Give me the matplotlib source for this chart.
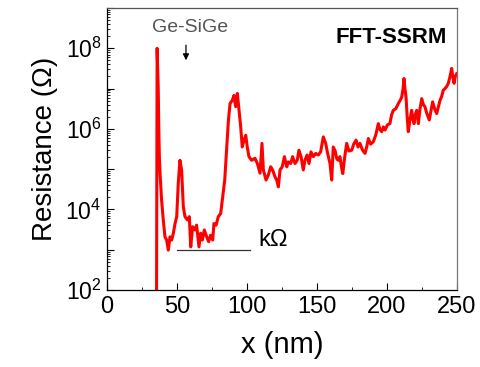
import matplotlib
matplotlib.use("Agg")
import matplotlib.pyplot as plt
import numpy as np
from matplotlib.ticker import LogLocator, FuncFormatter, MultipleLocator, NullFormatter

plt.rcParams['font.family'] = ['Liberation Sans', 'DejaVu Sans']
plt.rcParams['mathtext.fontset'] = 'custom'
plt.rcParams['mathtext.rm'] = 'Liberation Sans'
plt.rcParams['mathtext.it'] = 'Liberation Sans'

# position (nm)
x_nm = [35.3, 35.8, 36.6, 37.0, 37.4, 37.9, 39.0, 40.2, 41.4, 42.6, 43.8, 45.0, 46.2,
        47.4, 48.6, 49.8, 50.9, 52.1, 53.3, 54.5, 55.7, 57.4, 58.8, 59.8, 61.2, 62.9,
        64.0, 65.7, 66.9, 68.1, 69.5, 71.2, 72.6, 74.0, 75.5, 76.4, 77.9, 79.5, 81.2,
        82.6, 84.1, 85.5, 86.7, 87.9, 89.5, 90.7, 91.9, 93.1, 94.3, 95.5, 96.6, 97.9,
        99.1, 100.2, 101.4, 103.3, 105.7, 107.4, 109.3, 110.7, 111.7, 113.6, 115.2,
        116.9, 118.3, 120.0, 121.2, 122.4, 123.6, 125.2, 126.7, 128.4, 129.5, 131.2,
        132.6, 134.3, 135.9, 137.1, 138.6, 140.2, 141.4, 142.9, 144.3, 145.7, 147.4,
        149.1, 150.9, 152.6, 154.5, 156.2, 157.6, 159.3, 160.5, 161.6, 163.0, 164.2,
        165.2, 166.4, 167.5, 168.4, 169.8, 171.2, 172.8, 174.8, 176.2, 177.9, 179.3,
        180.7, 182.4, 184.3, 185.5, 186.7, 188.3, 190.2, 192.0, 193.8, 195.0, 196.2,
        197.4, 198.6, 200.3, 202.1, 203.3, 204.5, 206.3, 208.1, 209.3, 210.5, 211.5,
        212.1, 212.8, 213.6, 214.4, 215.2, 216.3, 217.6, 218.4, 219.3, 220.2, 221.2,
        222.4, 223.6, 224.8, 226.0, 227.1, 228.3, 230.2, 231.4, 232.6, 234.0, 235.5,
        236.7, 237.9, 239.0, 240.2, 241.4, 242.6, 243.8, 245.0, 246.2, 247.0, 247.9,
        248.8, 249.8]
# log10 of resistance (Ohm)
log_r = [0.5, 8.0, 7.0, 6.0, 5.3, 4.89, 4.23, 3.74, 3.32, 3.24, 2.99, 3.32, 3.24,
         3.41, 3.65, 3.82, 4.65, 5.22, 4.98, 4.07, 3.82, 3.74, 3.82, 3.07, 3.57, 3.49,
         3.61, 3.07, 3.41, 3.24, 3.49, 3.32, 3.20, 3.36, 3.24, 3.65, 3.61, 3.82, 3.90,
         4.31, 4.73, 5.50, 6.20, 6.63, 6.71, 6.83, 6.55, 6.88, 6.46, 6.05, 5.55, 5.72,
         5.84, 5.55, 5.31, 5.22, 5.27, 5.14, 4.90, 5.64, 4.98, 4.73, 4.85,
         5.06, 4.98, 4.81, 4.73, 4.56, 4.98, 5.06, 5.31, 5.06, 5.18, 5.14,
         5.31, 5.14, 5.22, 5.47, 5.31, 4.98, 5.22, 5.35, 5.14, 5.43, 5.31,
         5.39, 5.35, 5.43, 5.80, 5.64, 5.39, 5.14, 4.73, 5.55, 5.45, 5.25,
         5.22, 5.31, 5.05, 4.89, 5.30, 5.64, 5.45, 5.47, 5.62, 5.72, 5.55,
         5.64, 5.48, 5.39, 5.55, 5.76, 5.62, 5.68, 5.85, 6.13, 5.98, 5.93,
         6.05, 5.97, 6.10, 6.13, 6.35, 6.46, 6.50, 6.63, 6.70, 6.79, 7.00,
         7.25, 7.00, 6.79, 6.30, 5.93, 6.20, 6.46, 6.25, 6.13, 6.35, 6.46,
         6.13, 6.50, 6.75, 6.60, 6.55, 6.40, 6.22, 6.45, 6.67, 6.50, 6.38,
         6.55, 6.71, 6.80, 6.96, 7.00, 7.05, 7.13, 7.30, 7.50, 7.30, 7.13,
         7.30, 7.37]

ref_x = [50, 102]
ref_r = [1e3, 1e3]

fig = plt.figure(figsize=(4.81, 3.67), dpi=100)
ax = fig.add_axes([107/481, 77/367, 350/481, 282/367])

ax.plot(x_nm, 10 ** np.array(log_r), color='#ff0000', lw=2.2, solid_joinstyle='round')
ax.plot(ref_x, ref_r, color='#333333', lw=0.9)

ax.set_yscale('log')
ax.set_xlim(0, 250)
ax.set_ylim(1e2, 1e9)

ax.xaxis.set_major_locator(MultipleLocator(50))
ax.xaxis.set_minor_locator(MultipleLocator(25))
ax.yaxis.set_major_locator(LogLocator(base=10, numticks=20))
ax.yaxis.set_minor_locator(LogLocator(base=10, subs=np.arange(2, 10), numticks=100))
ax.yaxis.set_minor_formatter(NullFormatter())

def yfmt(v, pos):
    e = int(round(np.log10(v)))
    if e % 2 == 0 and 2 <= e <= 8:
        return r'$\mathregular{10^{%d}}$' % e
    return ''
ax.yaxis.set_major_formatter(FuncFormatter(yfmt))

ax.tick_params(which='both', direction='in', top=False, right=False)
ax.tick_params(axis='x', labelsize=17, pad=4)
ax.tick_params(axis='y', labelsize=16.5, pad=4)
ax.tick_params(which='major', length=5, width=0.8)
ax.tick_params(which='minor', length=2.5, width=0.6)

for s in ax.spines.values():
    s.set_linewidth(0.9)
ax.spines['right'].set_color('#777777')
ax.spines['top'].set_color('#555555')

ax.set_xlabel('x (nm)', fontsize=21, labelpad=10)
ax.set_ylabel('Resistance (Ω)', fontsize=20, labelpad=5)

ax.text(59.3, 3.2e8, 'Ge-SiGe', fontsize=14, color='#555555', ha='center', va='center')
ax.annotate('', xy=(56.4, 4.3e7), xytext=(56.4, 1.4e8),
            arrowprops=dict(arrowstyle='-|>', color='black', lw=0.9, mutation_scale=9))
ax.text(0.971, 0.894, 'FFT-SSRM', transform=ax.transAxes, fontsize=16,
        fontweight='bold', ha='right', va='center')
ax.text(108, 1.7e3, 'kΩ', fontsize=17, ha='left', va='center')

fig.savefig('out.png', dpi=100)
